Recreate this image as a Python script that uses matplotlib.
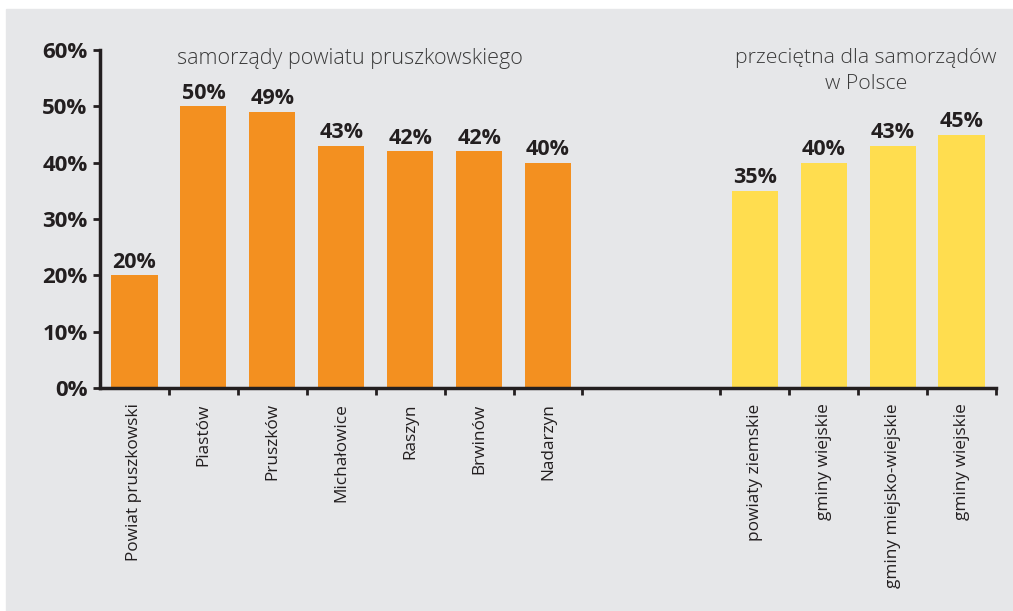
import matplotlib.pyplot as plt
from matplotlib.patches import Rectangle

plt.rcParams['font.family'] = ['Open Sans', 'DejaVu Sans']

# gminy powiatu pruszkowskiego
local_names = ['Powiat pruszkowski', 'Piastów', 'Pruszków', 'Michałowice',
               'Raszyn', 'Brwinów', 'Nadarzyn']
local_values = [20, 50, 49, 43, 42, 42, 40]

# średnie krajowe
avg_names = ['powiaty ziemskie', 'gminy wiejskie', 'gminy miejsko-wiejskie',
             'gminy wiejskie']
avg_values = [35, 40, 43, 45]

y_ticks = [0, 10, 20, 30, 40, 50, 60]

orange = '#F39020'
yellow = '#FFDD4F'
dark = '#231F20'
bg = '#E6E7E9'

fig = plt.figure(figsize=(10.13, 6.11), dpi=100)
fig.patches.append(Rectangle((6 / 1013, 0), 1, 1 - 9 / 611,
                             transform=fig.transFigure, color=bg, zorder=-1))

ax = fig.add_axes([100 / 1013, 223 / 611, 896 / 1013, 338 / 611])
ax.set_facecolor('none')

x_local = list(range(len(local_names)))
x_avg = [9 + i for i in range(len(avg_names))]

ax.bar(x_local, local_values, width=0.67, color=orange)
ax.bar(x_avg, avg_values, width=0.67, color=yellow)

for x, v in zip(x_local + x_avg, local_values + avg_values):
    ax.text(x, v + 0.5, f'{v}%', ha='center', va='bottom',
            fontsize=15.5, fontweight='bold', color=dark)

ax.set_xlim(-0.5, 12.5)
ax.set_ylim(0, 60)
ax.set_yticks(y_ticks)
ax.set_yticklabels([f'{t}%' for t in y_ticks], fontsize=16,
                   fontweight='bold', color=dark)

# kreski podziału między kategoriami (bez środka przerwy)
bounds = [b + 0.5 for b in range(13) if b != 7]
ax.set_xticks(bounds)
ax.set_xticklabels([])
ax.set_xticks(x_local + x_avg, minor=True)
ax.set_xticklabels(local_names + avg_names, minor=True, rotation=90,
                   fontsize=12.4, color=dark, va='top', ha='center')
ax.tick_params(axis='x', which='minor', length=0, pad=11)
ax.tick_params(axis='x', which='major', length=5, width=2, color=dark)
ax.tick_params(axis='y', length=5, width=2, color=dark, pad=4)

for side in ['top', 'right']:
    ax.spines[side].set_visible(False)
for side in ['left', 'bottom']:
    ax.spines[side].set_linewidth(2.5)
    ax.spines[side].set_color(dark)

ax.text(3.12, 58.5, 'samorządy powiatu pruszkowskiego', ha='center',
        va='center', fontsize=15.5, fontweight='light', color='#3a3a3a')
ax.text(10.61, 60.3, 'przeciętna dla samorządów\nw Polsce', ha='center',
        va='top', fontsize=15.3, fontweight='light', color='#3a3a3a',
        linespacing=1.4)

fig.savefig('out.png', dpi=100)
